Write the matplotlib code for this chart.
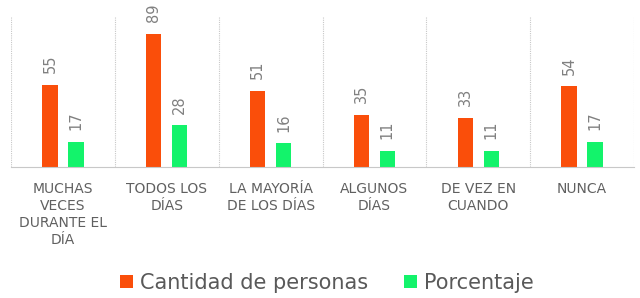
import numpy as np
from matplotlib import pyplot as plt

# Data
categories = ["MUCHAS\nVECES\nDURANTE EL\nDÍA", "TODOS LOS\nDÍAS", "LA MAYORÍA\nDE LOS DÍAS",
              "ALGUNOS\nDÍAS", "DE VEZ EN\nCUANDO", "NUNCA"]
cantidad = [55, 89, 51, 35, 33, 54]
porcentaje = [17, 28, 16, 11, 11, 17]

orange = '#FA4E0A'
green = '#13F36B'

fig = plt.figure(figsize=(6.4, 2.98), dpi=100)
ax = fig.add_axes([11 / 640, 1 - 167 / 298, 623 / 640, 150 / 298])

x = np.arange(len(categories))
w = 0.148
b1 = ax.bar(x - 0.125, cantidad, w, color=orange, label='Cantidad de personas')
b2 = ax.bar(x + 0.125, porcentaje, w, color=green, label='Porcentaje')

# value labels, rotated like the original
for bars in (b1, b2):
    for r in bars:
        ax.annotate(str(int(r.get_height())), (r.get_x() + r.get_width() / 2, r.get_height()),
                    xytext=(0, 8), textcoords='offset points', rotation=90,
                    ha='center', va='bottom', fontsize=10.5, color='#808080')

ax.set_xlim(-0.5, len(categories) - 0.5)
ax.set_ylim(0, 100)
ax.set_yticks([])
ax.set_xticks(x)
ax.set_xticklabels(categories, fontsize=10, color='#606060', linespacing=1.25)
ax.tick_params(axis='x', length=0, pad=11)

# separators between categories
ax.set_xticks(np.arange(len(categories) + 1) - 0.5, minor=True)
ax.tick_params(axis='x', which='minor', length=0)
ax.grid(True, which='minor', axis='x', color='#C8C8C8', linestyle=(0, (1, 1)), linewidth=0.8)

for s in ['top', 'left', 'right']:
    ax.spines[s].set_visible(False)
ax.spines['bottom'].set_color('#C8C8C8')

fig.legend(handles=[b1, b2], loc='center', bbox_to_anchor=(327 / 640, 1 - 283 / 298),
           ncol=2, frameon=False, fontsize=15, handlelength=0.63, handleheight=0.6,
           handletextpad=0.34, columnspacing=1.7, labelcolor='#595959',
           borderpad=0, borderaxespad=0)

fig.savefig('out.png', dpi=100)
